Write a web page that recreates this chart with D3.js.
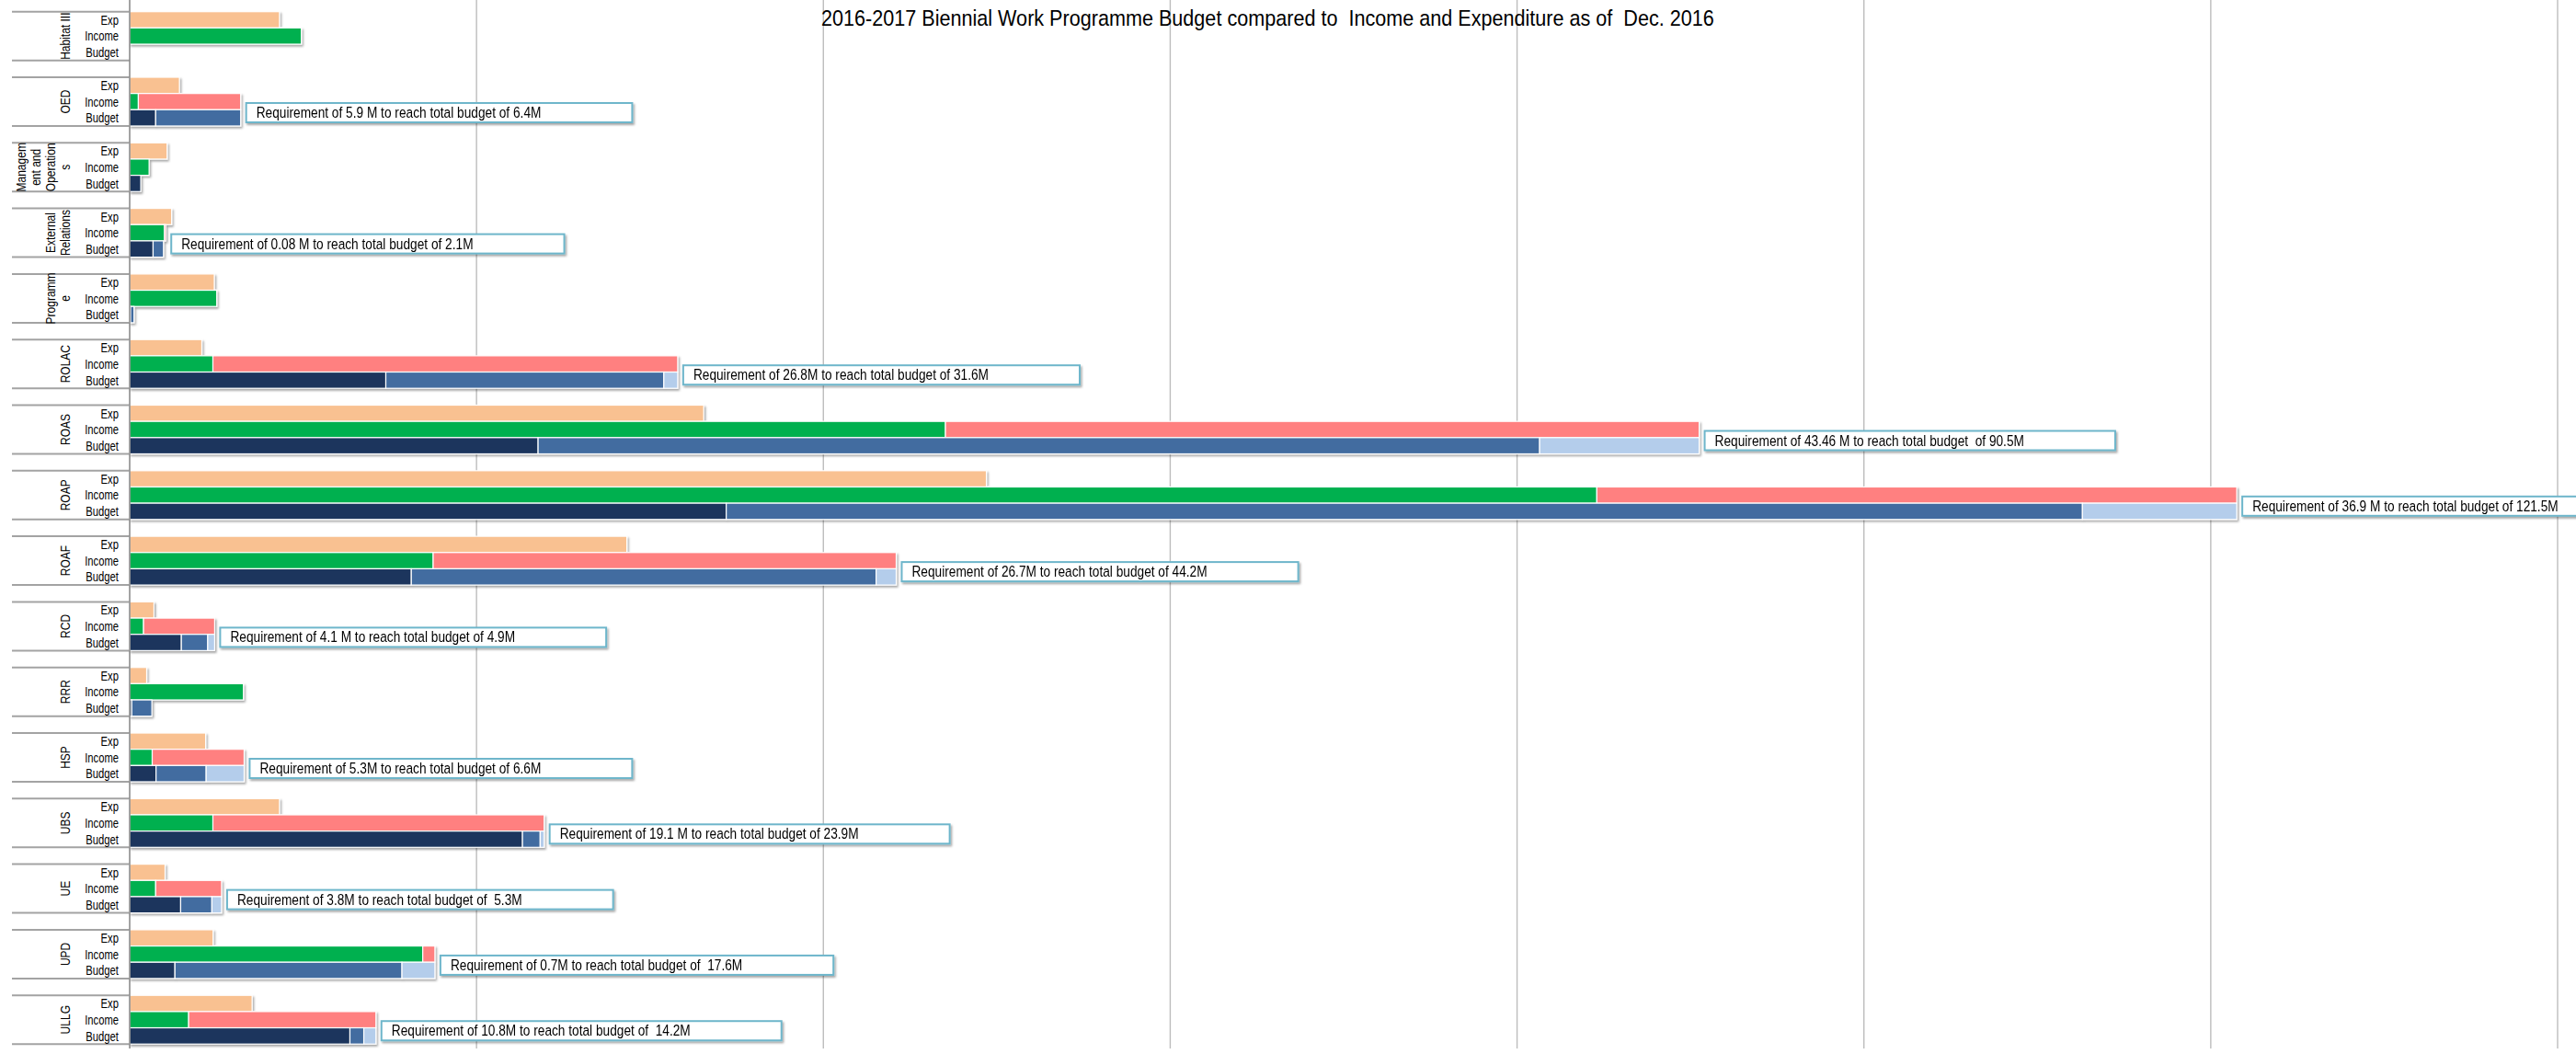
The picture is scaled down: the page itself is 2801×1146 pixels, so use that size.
<!DOCTYPE html>
<html>
<head>
<meta charset="utf-8">
<script src="https://cdn.jsdelivr.net/npm/d3@7"></script>
<style>
  body { margin: 0; background: #fff; }
  svg { display: block; }
  text { font-family: "Liberation Sans", Arial, sans-serif; fill: #000; }
</style>
</head>
<body>
<svg id="chart" width="2801" height="1146"></svg>
<script>
// values in millions
var categories = ["Habitat III", "OED", "Management and Operations", "External Relations", "Programme",
    "ROLAC", "ROAS", "ROAP", "ROAF", "RCD", "RRR", "HSP", "UBS", "UE", "UPD", "ULLG"];
var categoryLines = [["Habitat III"], ["OED"], ["Managem", "ent and", "Operation", "s"], ["External", "Relations"],
    ["Programm", "e"], ["ROLAC"], ["ROAS"], ["ROAP"], ["ROAF"], ["RCD"], ["RRR"], ["HSP"], ["UBS"], ["UE"], ["UPD"], ["ULLG"]];
var rows = ["Exp", "Income", "Budget"];

var expenditure = [8.64, 2.87, 2.16, 2.42, 4.88, 4.16, 33.1, 49.4, 28.67, 1.4, 0.98, 4.38, 8.64, 2.04, 4.81, 7.06];
var income      = [9.9, 0.5, 1.12, 2.0, 5.02, 4.8, 47.04, 84.6, 17.5, 0.8, 6.56, 1.3, 4.8, 1.5, 16.9, 3.4];
var requirement = [0, 5.9, 0, 0.08, 0, 26.8, 43.46, 36.9, 26.7, 4.1, 0, 5.3, 19.1, 3.8, 0.7, 10.8];
var budgetCore  = [0, 1.5, 0.64, 1.35, 0.05, 14.77, 23.55, 34.4, 16.24, 2.98, 0.12, 1.52, 22.65, 2.94, 2.61, 12.7];
var budgetMid   = [0, 4.9, 0, 0.6, 0.2, 16.03, 57.75, 78.2, 26.8, 1.52, 1.16, 2.89, 1.02, 1.8, 13.09, 0.8];
var budgetExtra = [0, 0, 0, 0, 0, 0.8, 9.2, 8.9, 1.16, 0.4, 0, 2.19, 0.23, 0.56, 1.9, 0.7];

var notes = [null,
    "Requirement of 5.9 M to reach total budget of 6.4M",
    null,
    "Requirement of 0.08 M to reach total budget of 2.1M",
    null,
    "Requirement of 26.8M to reach total budget of 31.6M",
    "Requirement of 43.46 M to reach total budget  of 90.5M",
    "Requirement of 36.9 M to reach total budget of 121.5M",
    "Requirement of 26.7M to reach total budget of 44.2M",
    "Requirement of 4.1 M to reach total budget of 4.9M",
    null,
    "Requirement of 5.3M to reach total budget of 6.6M",
    "Requirement of 19.1 M to reach total budget of 23.9M",
    "Requirement of 3.8M to reach total budget of  5.3M",
    "Requirement of 0.7M to reach total budget of  17.6M",
    "Requirement of 10.8M to reach total budget of  14.2M"];

var xTicks = [0, 20, 40, 60, 80, 100, 120, 140];
var title = "2016-2017 Biennial Work Programme Budget compared to  Income and Expenditure as of  Dec. 2016";

var colors = {
    exp: "#F9C191", income: "#00B050", req: "#FF8080",
    core: "#1A365D", mid: "#426CA0", extra: "#B4CDEB"
};

var svg = d3.select("#chart");

var defs = svg.append("defs");
defs.append("filter").attr("id", "shadow")
    .attr("x", "-5%").attr("y", "-30%").attr("width", "115%").attr("height", "170%")
    .append("feDropShadow")
    .attr("dx", 1.5).attr("dy", 2).attr("stdDeviation", 1.2)
    .attr("flood-color", "#000").attr("flood-opacity", 0.35);

var x = d3.scaleLinear().domain([0, 140]).range([141, 2781]);

var y = d3.scaleBand()
    .domain(categories)
    .range([12.7, 1135.2])
    .paddingInner(0.257)
    .paddingOuter(0);

var yRow = d3.scaleBand().domain(rows).range([0, y.bandwidth()]);

// narrow-looking text: squeeze it horizontally
function narrowText(parent, tx, ty, sx, size, str) {
    return parent.append("text")
        .attr("transform", "translate(" + tx + "," + ty + ") scale(" + sx + ",1)")
        .style("white-space", "pre")
        .attr("font-size", size)
        .text(str);
}

// gridlines
svg.append("g").selectAll("line")
    .data(xTicks.slice(1))
    .enter().append("line")
    .attr("x1", function(d) { return x(d); })
    .attr("x2", function(d) { return x(d); })
    .attr("y1", 0).attr("y2", 1140)
    .attr("stroke", "#BDBDBD").attr("stroke-width", 1.4);

// title
narrowText(svg, 893, 28, 0.9, 24, title);

// category axis lines on the left
var axisG = svg.append("g");
categories.forEach(function(c) {
    [y(c), y(c) + y.bandwidth()].forEach(function(yy) {
        axisG.append("line")
            .attr("x1", 13).attr("x2", 141)
            .attr("y1", yy).attr("y2", yy)
            .attr("stroke", "#A3A3A3").attr("stroke-width", 2);
    });
});

// row labels
categories.forEach(function(c) {
    rows.forEach(function(r) {
        narrowText(axisG, 129, y(c) + yRow(r) + yRow.bandwidth() / 2 + 5.2, 0.75, 15, r)
            .attr("text-anchor", "end");
    });
});

// rotated category labels
categories.forEach(function(c, i) {
    var lines = categoryLines[i];
    var cy = y(c) + y.bandwidth() / 2;
    lines.forEach(function(l, j) {
        var cx = 70 - (lines.length - 1 - j) * 16;
        axisG.append("text")
            .attr("transform", "translate(" + (cx + 5.5) + "," + cy + ") rotate(-90) scale(0.8,1)")
            .attr("text-anchor", "middle")
            .attr("font-size", 15)
            .text(l);
    });
});

// bars
var segments = categories.map(function(c, i) {
    var s = [];
    s.push({ row: "Exp", x0: 0, x1: expenditure[i], color: colors.exp });
    s.push({ row: "Income", x0: 0, x1: income[i], color: colors.income });
    s.push({ row: "Income", x0: income[i], x1: income[i] + requirement[i], color: colors.req });
    var a = budgetCore[i], b = budgetMid[i], e = budgetExtra[i];
    s.push({ row: "Budget", x0: 0, x1: a, color: colors.core });
    s.push({ row: "Budget", x0: a, x1: a + b, color: colors.mid });
    s.push({ row: "Budget", x0: a + b, x1: a + b + e, color: colors.extra });
    return s.filter(function(d) { return d.x1 - d.x0 > 0; });
});

var barGroups = svg.append("g").selectAll("g")
    .data(categories)
    .enter().append("g")
    .attr("transform", function(c) { return "translate(0," + y(c) + ")"; })
    .attr("filter", "url(#shadow)");

barGroups.selectAll("rect")
    .data(function(c, i) { return segments[i]; })
    .enter().append("rect")
    .attr("x", function(d) { return x(d.x0); })
    .attr("y", function(d) { return yRow(d.row); })
    .attr("width", function(d) { return x(d.x1) - x(d.x0); })
    .attr("height", yRow.bandwidth())
    .attr("fill", function(d) { return d.color; })
    .attr("stroke", "#fff").attr("stroke-width", 1.2);

// value axis line
svg.append("line")
    .attr("x1", x(0)).attr("x2", x(0))
    .attr("y1", 0).attr("y2", 1140)
    .attr("stroke", "#858585").attr("stroke-width", 1.5);

// requirement call-outs
categories.forEach(function(c, i) {
    if (!notes[i]) return;
    var total = Math.max(income[i] + requirement[i], budgetCore[i] + budgetMid[i] + budgetExtra[i]);
    var bx = x(total) + 6;
    var by = y(c) + 28;
    var g = svg.append("g").attr("filter", "url(#shadow)");
    var box = g.append("rect")
        .attr("x", bx).attr("y", by)
        .attr("height", 21)
        .attr("fill", "#fff")
        .attr("stroke", "#6EB6CB").attr("stroke-width", 2);
    var t = narrowText(g, bx + 11, by + 16, 0.83, 16.5, notes[i]);
    box.attr("width", t.node().getComputedTextLength() * 0.83 + 110);
});
</script>
</body>
</html>
